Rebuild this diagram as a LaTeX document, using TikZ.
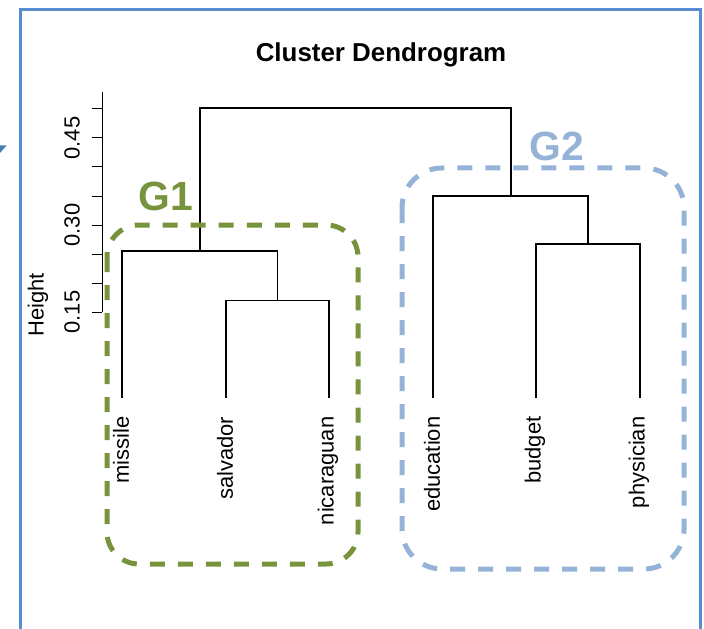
\documentclass[tikz,border=0pt]{standalone}
\usepackage{fontspec}
\setmainfont{Liberation Sans}
\definecolor{framecol}{RGB}{88,140,208}
\definecolor{arrowcol}{RGB}{74,126,187}
\definecolor{gonecol}{RGB}{119,147,60}
\definecolor{gtwocol}{RGB}{149,179,215}
\tikzset{
  dendro/.style={line width=1.1bp, black},
  leaflab/.style={rotate=90, anchor=east, inner sep=0pt, font=\fontsize{22}{24}\selectfont},
  ticklab/.style={rotate=90, inner sep=0pt, font=\fontsize{22}{24}\selectfont},
  grpbox/.style={line width=5bp, dash pattern=on 15bp off 13bp},
  grplab/.style={inner sep=0pt, font=\bfseries\fontsize{41}{44}\selectfont}
}
\begin{document}
\begin{tikzpicture}[x=1bp, y=-1bp]
\useasboundingbox (0,0) rectangle (704,629);
% outer frame and a stray arrow tip at the left edge
\draw[framecol, line width=3bp] (20,660) -- (20,10) -- (700.5,10) -- (700.5,660);
\fill[arrowcol] (0,145.5) -- (6.5,145.5) -- (0,153) -- cycle;

% title
\node[inner sep=0pt, anchor=base, font=\bfseries\fontsize{26}{28}\selectfont] (title) at (381,62) {Cluster Dendrogram};

% y axis
\coordinate (axtop) at (102,92);
\coordinate (axbot) at (102,312);
\draw[line width=1bp] (axtop) -- (axbot);
\foreach \k in {0,...,7}{
  \draw[line width=1bp] (92,312-29*\k) -- (102,312-29*\k);
}
\node[ticklab] (t15) at (72,312) {0.15};
\node[ticklab] (t30) at (72,225) {0.30};
\node[ticklab] (t45) at (72,138) {0.45};
\node[ticklab] (ylab) at (38,305) {Height};

% leaves
\coordinate (lmis) at (122,398);
\coordinate (lsal) at (226,398);
\coordinate (lnic) at (329,398);
\coordinate (ledu) at (433,398);
\coordinate (lbud) at (536,398);
\coordinate (lphy) at (640,398);
% merges
\coordinate (msn) at (277.5,300.5);
\coordinate (mg1) at (200,251);
\coordinate (mbp) at (588,244);
\coordinate (mg2) at (511,196);
\coordinate (mtop) at (356,108);

\draw[dendro] (lsal) |- (msn) -| (lnic);
\draw[dendro] (lmis) |- (mg1) -| (msn);
\draw[dendro] (lbud) |- (mbp) -| (lphy);
\draw[dendro] (ledu) |- (mg2) -| (mbp);
\draw[dendro] (mg1) |- (mtop) -| (mg2);

\node[leaflab] (nmis) at (121,416.5) {missile};
\node[leaflab] (nsal) at (225,416.5) {salvador};
\node[leaflab] (nnic) at (328,416.5) {nicaraguan};
\node[leaflab] (nedu) at (432,416.5) {education};
\node[leaflab] (nbud) at (535,416.5) {budget};
\node[leaflab] (nphy) at (639,416.5) {physician};

% group outlines
\draw[grpbox, gonecol, rounded corners=32bp] (107,225) rectangle (358,564);
\draw[grpbox, gtwocol, rounded corners=40bp] (402,168) rectangle (684,569);
\node[grplab, text=gonecol] (g1) at (166,196) {G1};
\node[grplab, text=gtwocol] (g2) at (557,146) {G2};
\end{tikzpicture}
\end{document}
